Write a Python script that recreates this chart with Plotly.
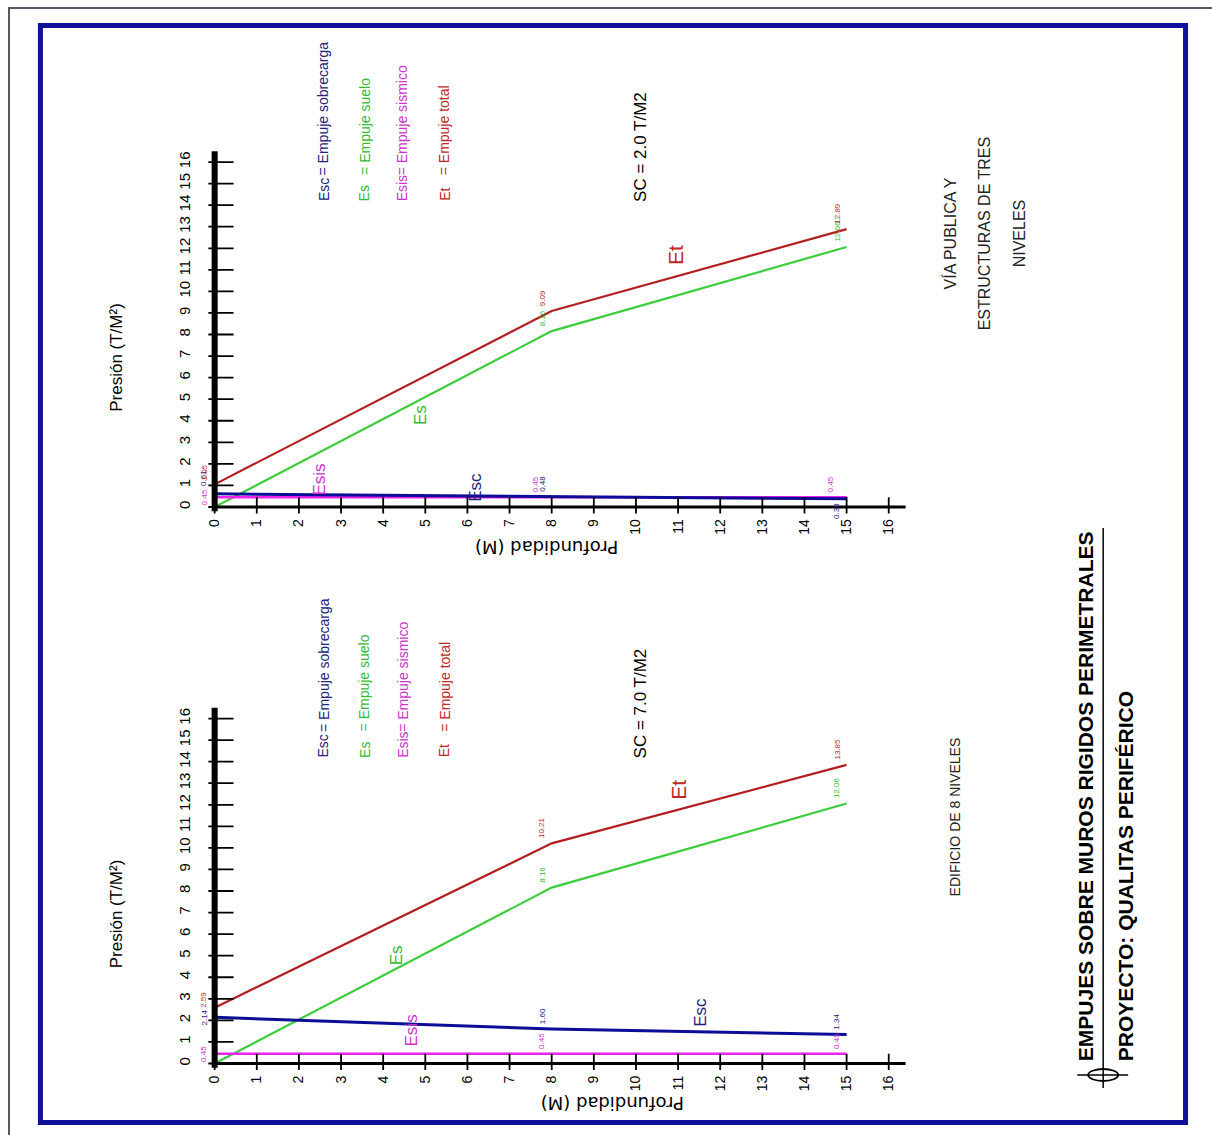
import plotly.graph_objects as go

W, H = 1212, 1135

# ---------------- data ----------------
depth = [0, 8, 15]
# top chart: SC = 2.0 T/M2
top_esc = [0.61, 0.48, 0.38]
top_es = [0.0, 8.16, 12.06]
top_esis = [0.45, 0.45, 0.45]
top_et = [1.05, 9.09, 12.89]
# bottom chart: SC = 7.0 T/M2
bot_esc = [2.14, 1.60, 1.34]
bot_es = [0.0, 8.16, 12.06]
bot_esis = [0.45, 0.45, 0.45]
bot_et = [2.59, 10.21, 13.85]

depth_ticks = list(range(0, 17))
pressure_ticks = list(range(0, 17))

legend_codes = ["Esc", "Es", "Esis", "Et"]
legend_names = ["= Empuje sobrecarga", "= Empuje suelo", "= Empuje sismico", "= Empuje total"]

# ---------------- styles ----------------
NARROW = "Liberation Sans, Arial, sans-serif"
WIDE = "DejaVu Sans, Verdana, sans-serif"
C_ESC = "#0c0c96"
C_ES = "#3ccd3c"
C_ESIS = "#ee22ee"
C_ET = "#b41e1e"
T_ESC = "#22227a"
T_ES = "#33bb33"
T_ESIS = "#cc33cc"
T_ET = "#c02828"

X0, SX = 213.0, 42.2       # pixel of depth 0, px per metre
SY = 21.56                 # px per T/M2
XR = [-0.15, 16.5]
YR = [-0.3, 16.6]
charts = [
    dict(Y0=507.0, esc=top_esc, es=top_es, esis=top_esis, et=top_et, sc="SC = 2.0 T/M2"),
    dict(Y0=1063.5, esc=bot_esc, es=bot_es, esis=bot_esis, et=bot_et, sc="SC = 7.0 T/M2"),
]


def px(x):
    return x / W


def py(y):
    return 1 - y / H


def ptext(x, y, text, size, color="black", family=NARROW, angle=-90,
          xanchor="center", yanchor="middle"):
    return dict(xref="paper", yref="paper", x=px(x), y=py(y), text=text, textangle=angle,
                showarrow=False, xanchor=xanchor, yanchor=yanchor,
                font=dict(family=family, size=size, color=color))


fig = go.Figure()
annotations = []
shapes = []

for i, ch in enumerate(charts):
    n = "" if i == 0 else str(i + 1)
    xa, ya = "x" + n, "y" + n
    xdom = [px(X0 + SX * XR[0]), px(X0 + SX * XR[1])]
    ydom = [py(ch["Y0"] - SY * YR[0]), py(ch["Y0"] - SY * YR[1])]
    fig.layout["xaxis" + n] = dict(
        domain=xdom, range=XR, anchor=ya, tickvals=depth_ticks,
        ticktext=[str(t) for t in depth_ticks], tickangle=-90, ticks="",
        showgrid=False, zeroline=False, showline=False,
        tickfont=dict(family=NARROW, size=14, color="black"), ticklabelstandoff=2)
    fig.layout["yaxis" + n] = dict(
        domain=ydom, range=YR, anchor=xa, tickvals=pressure_ticks,
        ticktext=[str(t) for t in pressure_ticks], tickangle=-90, ticks="",
        showgrid=False, zeroline=False, showline=False,
        tickfont=dict(family=NARROW, size=15, color="black"), ticklabelstandoff=14)

    # axes lines
    shapes.append(dict(type="line", xref=xa, yref=ya, x0=0, x1=0, y0=-0.2, y1=16.5,
                       line=dict(color="black", width=6), layer="above"))
    shapes.append(dict(type="line", xref=xa, yref=ya, x0=0, x1=16.4, y0=0, y1=0,
                       line=dict(color="black", width=3), layer="above"))

    # series
    fig.add_trace(go.Scatter(x=depth, y=ch["es"], mode="lines", xaxis=xa, yaxis=ya,
                             line=dict(color=C_ES, width=2.2), showlegend=False))
    fig.add_trace(go.Scatter(x=depth, y=ch["et"], mode="lines", xaxis=xa, yaxis=ya,
                             line=dict(color=C_ET, width=2.2), showlegend=False))
    fig.add_trace(go.Scatter(x=depth, y=ch["esis"], mode="lines", xaxis=xa, yaxis=ya,
                             line=dict(color=C_ESIS, width=2.5), showlegend=False))
    fig.add_trace(go.Scatter(x=depth, y=ch["esc"], mode="lines", xaxis=xa, yaxis=ya,
                             line=dict(color=C_ESC, width=3), showlegend=False))

    # cross ticks
    fig.add_trace(go.Scatter(x=[0] * len(pressure_ticks), y=pressure_ticks, mode="markers",
                             xaxis=xa, yaxis=ya, showlegend=False, hoverinfo="skip",
                             marker=dict(symbol="line-ew", size=27,
                                         line=dict(color="black", width=1.8))))
    fig.add_trace(go.Scatter(x=depth_ticks, y=[0] * len(depth_ticks), mode="markers",
                             xaxis=xa, yaxis=ya, showlegend=False, hoverinfo="skip",
                             marker=dict(symbol="line-ns", size=14,
                                         line=dict(color="black", width=1.8))))

    dy = ch["Y0"] - 507.0
    # axis titles
    annotations.append(ptext(115, 357 + dy, "Presión (T/M²)", 17))
    annotations.append(ptext(546 + (65 if i else 0), 547 + dy, "Profundidad (M)", 18,
                             family=WIDE, angle=180))
    # legend block
    cols = [322, 363, 401, 443]
    tcol = [T_ESC, T_ES, T_ESIS, T_ET]
    for code, name, cx, c in zip(legend_codes, legend_names, cols, tcol):
        annotations.append(ptext(cx, 203 + dy, code, 14, c, yanchor="bottom"))
        annotations.append(ptext(cx, 177 + dy, name, 14, c, yanchor="bottom"))
    # SC label
    annotations.append(ptext(640, 147 + dy, ch["sc"], 17))

    # value labels at points
    series = [("esis", T_ESIS), ("esc", T_ESC), ("es", T_ES), ("et", T_ET)]
    for key, c in series:
        for j, d in enumerate(depth):
            v = ch[key][j]
            if key == "es" and j == 0:
                continue
            xs, ys, yanc = -3, 3, "bottom"
            if j == 0:
                xs = -4
                if key == "esis":
                    yanc, ys = "middle", 0
                elif key == "esc":
                    yanc, ys = ("bottom", 6) if i == 0 else ("middle", 0)
                else:
                    yanc, ys = "bottom", (2 if i == 0 else -2)
            elif i == 0 and key == "esis":
                xs = -10
            elif i == 0 and key == "esc" and j == 2:
                yanc, ys = "top", -2
            annotations.append(dict(xref=xa, yref=ya, x=d, y=v, text=f"{v:.2f}",
                                    textangle=-90, showarrow=False, xanchor="right",
                                    yanchor=yanc, xshift=xs, yshift=ys,
                                    font=dict(family=NARROW, size=8, color=c)))

# curve name labels (position of each label on its chart)
curve_labels = [
    (0, "Es", 4.9, 4.27, T_ES, 17), (0, "Esc", 6.2, 0.93, T_ESC, 17),
    (0, "Esis", 2.49, 1.25, T_ESIS, 17), (0, "Et", 10.95, 11.69, T_ET, 21),
    (1, "Es", 4.31, 5.03, T_ES, 17), (1, "Esc", 11.54, 2.39, T_ESC, 17),
    (1, "Esis", 4.67, 1.55, T_ESIS, 17), (1, "Et", 11.02, 12.69, T_ET, 21),
]
for ci, t, d, p, c, s in curve_labels:
    n = "" if ci == 0 else "2"
    annotations.append(dict(xref="x" + n, yref="y" + n, x=d, y=p, text=t, textangle=-90,
                            showarrow=False, xanchor="center", yanchor="middle",
                            font=dict(family=NARROW, size=s, color=c)))

# descriptive texts
for cx, t in [(950, "VÍA PUBLICA Y"), (985, "ESTRUCTURAS DE TRES"), (1020, "NIVELES")]:
    annotations.append(ptext(cx, 233, t, 16, "#222222"))
annotations.append(ptext(955, 817, "EDIFICIO DE 8 NIVELES", 14, "#222222"))
# title
annotations.append(ptext(1085, 1063, "<b>EMPUJES SOBRE MUROS RIGIDOS PERIMETRALES</b>", 21,
                         yanchor="bottom"))
annotations.append(ptext(1125, 1063, "<b>PROYECTO: QUALITAS PERIFÉRICO</b>", 21,
                         yanchor="bottom"))

# frame, border, underline and symbol
shapes += [
    dict(type="rect", xref="paper", yref="paper", x0=px(7), x1=px(1230), y0=py(8), y1=py(1150),
         line=dict(color="#555566", width=2)),
    dict(type="rect", xref="paper", yref="paper", x0=px(38.5), x1=px(1185.5), y0=py(25.5),
         y1=py(1122.5), line=dict(color="#10109a", width=5)),
    dict(type="line", xref="paper", yref="paper", x0=px(1103), x1=px(1103), y0=py(528),
         y1=py(1088), line=dict(color="black", width=1.5)),
    dict(type="line", xref="paper", yref="paper", x0=px(1077), x1=px(1128), y0=py(1075),
         y1=py(1075), line=dict(color="black", width=1.5)),
    dict(type="circle", xref="paper", yref="paper", x0=px(1088), x1=px(1118), y0=py(1069),
         y1=py(1081), line=dict(color="black", width=1.8)),
]

fig.update_layout(width=W, height=H, margin=dict(l=0, r=0, t=0, b=0),
                  paper_bgcolor="white", plot_bgcolor="white", showlegend=False,
                  annotations=annotations, shapes=shapes)
fig.write_html("out.html")
